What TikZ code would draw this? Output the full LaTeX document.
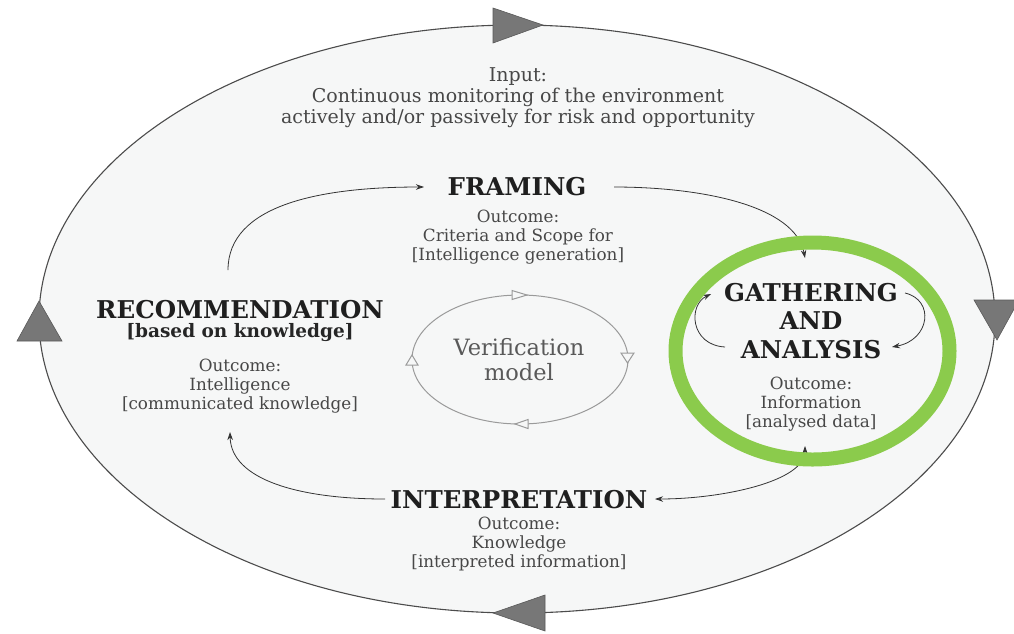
\documentclass[tikz,border=0pt]{standalone}
\usepackage{fontspec}
\setmainfont{DejaVu Serif}
\usetikzlibrary{arrows.meta}
\definecolor{bgin}{HTML}{F6F7F7}
\definecolor{ringgreen}{HTML}{8BCB4C}
\definecolor{markgray}{HTML}{777777}
\definecolor{vergray}{HTML}{9A9A9A}
\begin{document}
\begin{tikzpicture}[x=1pt,y=-1pt,
  heading/.style={font=\bfseries\fontsize{24.5}{28.5}\selectfont, text=black!88, align=center, inner sep=0pt},
  subhead/.style={font=\bfseries\fontsize{18.5}{18}\selectfont, text=black!85, align=center, inner sep=0pt},
  body/.style={font=\fontsize{16.8}{18.8}\selectfont, text=black!72, align=center, inner sep=0pt},
  inputtxt/.style={font=\fontsize{19}{21}\selectfont, text=black!72, align=center, inner sep=0pt},
  vertxt/.style={font=\fontsize{22.5}{25}\selectfont, text=black!65, align=center, inner sep=0pt},
  arr/.style={draw=black!80, line width=0.8pt, -{Stealth[length=8pt,width=5.5pt]}},
  biarr/.style={draw=black!80, line width=0.8pt, {Stealth[length=8pt,width=5.5pt]}-{Stealth[length=8pt,width=5.5pt]}},
  bigmark/.style={fill=markgray, draw=black!65, line width=0.6pt},
  vermark/.style={fill=bgin, draw=vergray, line width=1pt}
]
\useasboundingbox[fill=white] (0,0) rectangle (1014,633);

% outer cycle
\draw[fill=bgin, draw=black!70, line width=1.1pt] (517,319) ellipse [x radius=478, y radius=294];
\draw[bigmark] (493,8) -- (543,25) -- (493,43) -- cycle;
\draw[bigmark] (974,300) -- (1019,300) -- (997,340) -- cycle;
\draw[bigmark] (545,595) -- (545,631) -- (493,613) -- cycle;
\draw[bigmark] (17,341) -- (62,341) -- (39,301) -- cycle;

% texts
\node[inputtxt] (input) at (518,98) {Input:\\Continuous monitoring of the environment\\actively and/or passively for risk and opportunity};
\node[heading] (framing) at (517,187) {FRAMING};
\node[body] (framingOut) at (518,237) {Outcome:\\Criteria and Scope for\\{}[Intelligence generation]};
\node[heading] (recomm) at (240,310) {RECOMMENDATION};
\node[subhead] (recommSub) at (240,333) {[based on knowledge]};
\node[body] (recommOut) at (240,386) {Outcome:\\Intelligence\\{}[communicated knowledge]};
\node[heading] (gath) at (811,321) {GATHERING\\AND\\ANALYSIS};
\node[body] (gathOut) at (811,404) {Outcome:\\Information\\{}[analysed data]};
\node[heading] (interp) at (519,500) {INTERPRETATION};
\node[body] (interpOut) at (519,544) {Outcome:\\Knowledge\\{}[interpreted information]};

% verification model
\draw[draw=vergray, line width=1pt] (520,359.5) ellipse [x radius=108, y radius=64.5];
\node[vertxt] (verif) at (519,360) {Verification\\model};
\draw[vermark] (512,290.5) -- (527,295) -- (512,299.5) -- cycle;
\draw[vermark] (621,353) -- (634,353) -- (627.5,363) -- cycle;
\draw[vermark] (528,419.5) -- (528,428.5) -- (515,424) -- cycle;
\draw[vermark] (406,365) -- (418,365) -- (412,355) -- cycle;

% connector end points
\coordinate (recTop) at (228,270);
\coordinate (frW) at (424,187);
\coordinate (frE) at (614,187);
\coordinate (gaTop) at (805,258);
\coordinate (gaBot) at (805,446);
\coordinate (inE) at (655,499);
\coordinate (inW) at (385,499);
\coordinate (recBot) at (230,432);
\coordinate (gaLs) at (725,347);
\coordinate (gaLe) at (711,294);
\coordinate (gaRs) at (905,293);
\coordinate (gaRe) at (892,347);

\draw[arr] (recTop) .. controls (228,205) and (320,187) .. (frW);
\draw[arr] (frE) .. controls (700,187) and (795,205) .. (gaTop);
\draw[biarr] (gaBot) .. controls (805,482) and (720,499) .. (inE);
\draw[arr] (inW) .. controls (300,499) and (231,480) .. (recBot);
\draw[arr] (gaLs) .. controls (690,345) and (688,305) .. (gaLe);
\draw[arr] (gaRs) .. controls (935,300) and (930,340) .. (gaRe);

% highlight ring
\draw[draw=ringgreen, line width=14pt] (812.5,351) ellipse [x radius=137, y radius=108.5];
\end{tikzpicture}
\end{document}
